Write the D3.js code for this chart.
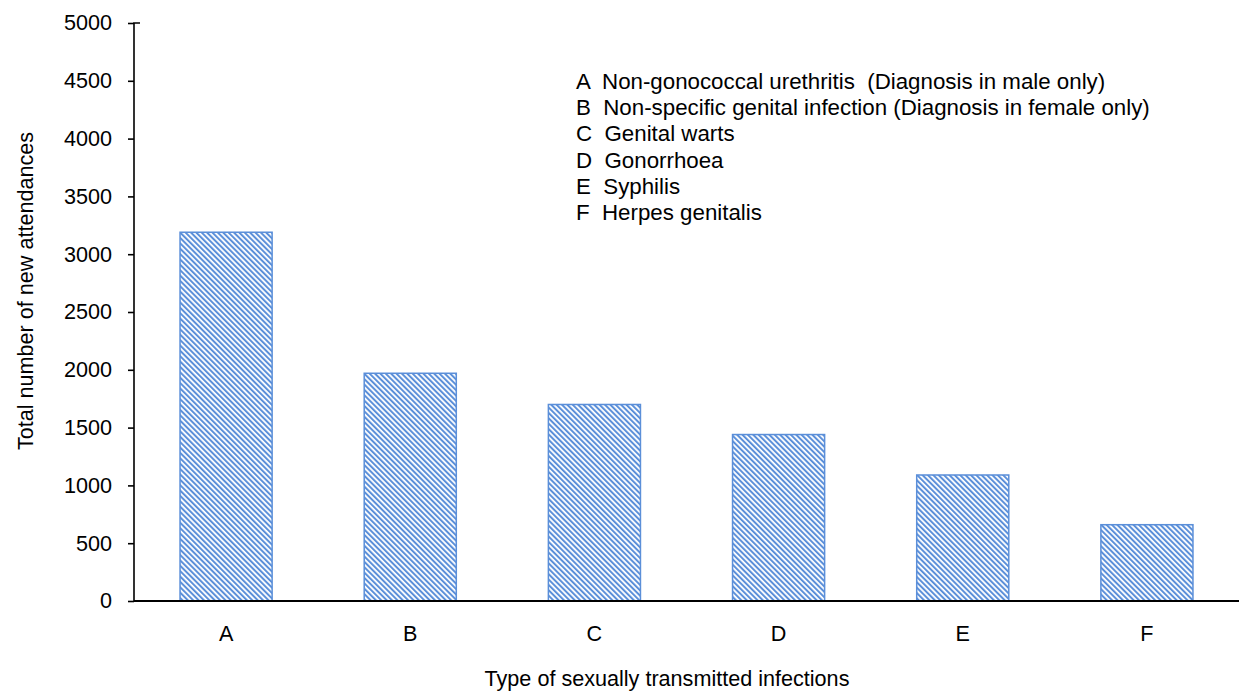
<!DOCTYPE html>
<html>
<head>
<meta charset="utf-8">
<script src="https://d3js.org/d3.v7.min.js"></script>
<style>
  body { margin: 0; background: #fff; }
  text { font-family: "Liberation Sans", Arial, sans-serif; fill: #000; }
</style>
</head>
<body>
<svg id="chart"></svg>
<script>
// chart data
const categories = ['A', 'B', 'C', 'D', 'E', 'F'];
const attendances = [3190, 1970, 1700, 1440, 1090, 660];
const yTicks = [0, 500, 1000, 1500, 2000, 2500, 3000, 3500, 4000, 4500, 5000];
const legendLines = [
    'A  Non-gonococcal urethritis  (Diagnosis in male only)',
    'B  Non-specific genital infection (Diagnosis in female only)',
    'C  Genital warts',
    'D  Gonorrhoea',
    'E  Syphilis',
    'F  Herpes genitalis'
];

const width = 1239, height = 698;
const margin = {top: 23, right: 0, bottom: 97, left: 134};
const barColor = '#5b8fd9';
const fontSize = 21.6;

const svg = d3.select('#chart')
    .attr('width', width)
    .attr('height', height);

// diagonal stripe fill like excel's "wide downward diagonal"
const pattern = svg.append('defs').append('pattern')
    .attr('id', 'stripes')
    .attr('patternUnits', 'userSpaceOnUse')
    .attr('width', 3.8)
    .attr('height', 3.8)
    .attr('patternTransform', 'rotate(-45)');
pattern.append('rect')
    .attr('width', 3.8).attr('height', 3.8).attr('fill', '#fff');
pattern.append('rect')
    .attr('width', 2).attr('height', 3.8).attr('fill', barColor);

const x = d3.scaleBand()
    .domain(categories)
    .range([margin.left, width - margin.right])
    .paddingInner(0.5)
    .paddingOuter(0.25);

const y = d3.scaleLinear()
    .domain([0, 5000])
    .range([height - margin.bottom, margin.top]);

// bars
svg.append('g')
    .selectAll('rect')
    .data(attendances)
    .enter()
    .append('rect')
    .attr('x', (d, i) => x(categories[i]))
    .attr('y', d => y(d))
    .attr('width', x.bandwidth())
    .attr('height', d => y(0) - y(d))
    .attr('fill', 'url(#stripes)')
    .attr('stroke', barColor)
    .attr('stroke-width', 1.5);

// y axis
const yAxis = svg.append('g')
    .attr('transform', `translate(${margin.left},0)`)
    .call(d3.axisLeft(y).tickValues(yTicks).tickSize(6).tickPadding(16).tickFormat(d3.format('d')));
yAxis.select('.domain').attr('stroke', '#000').attr('stroke-width', 1.6)
    .attr('d', `M6,${y(5000)}H0V${y(0)}`);
yAxis.selectAll('.tick line').attr('stroke', '#000').attr('stroke-width', 1.6);
yAxis.selectAll('.tick text').attr('font-size', fontSize).attr('font-family', '"Liberation Sans", Arial, sans-serif').attr('fill', '#000');

// x axis
const xAxis = svg.append('g')
    .attr('transform', `translate(0,${y(0)})`)
    .call(d3.axisBottom(x).tickSize(0).tickPadding(25));
xAxis.select('.domain').attr('stroke', '#000').attr('stroke-width', 2.2)
    .attr('d', `M${margin.left},0H${width}`);
xAxis.selectAll('.tick text').attr('font-size', fontSize).attr('font-family', '"Liberation Sans", Arial, sans-serif').attr('fill', '#000');

// axis titles
svg.append('text')
    .attr('x', 667)
    .attr('y', 686)
    .attr('text-anchor', 'middle')
    .attr('font-size', fontSize)
    .text('Type of sexually transmitted infections');

svg.append('text')
    .attr('transform', 'translate(33,291) rotate(-90)')
    .attr('text-anchor', 'middle')
    .attr('font-size', fontSize)
    .text('Total number of new attendances');

// legend text block
svg.append('g')
    .selectAll('text')
    .data(legendLines)
    .enter()
    .append('text')
    .attr('x', 576)
    .attr('y', (d, i) => 89 + i * 26.2)
    .attr('font-size', 22.3)
    .style('white-space', 'pre')
    .attr('xml:space', 'preserve')
    .text(d => d);
</script>
</body>
</html>
